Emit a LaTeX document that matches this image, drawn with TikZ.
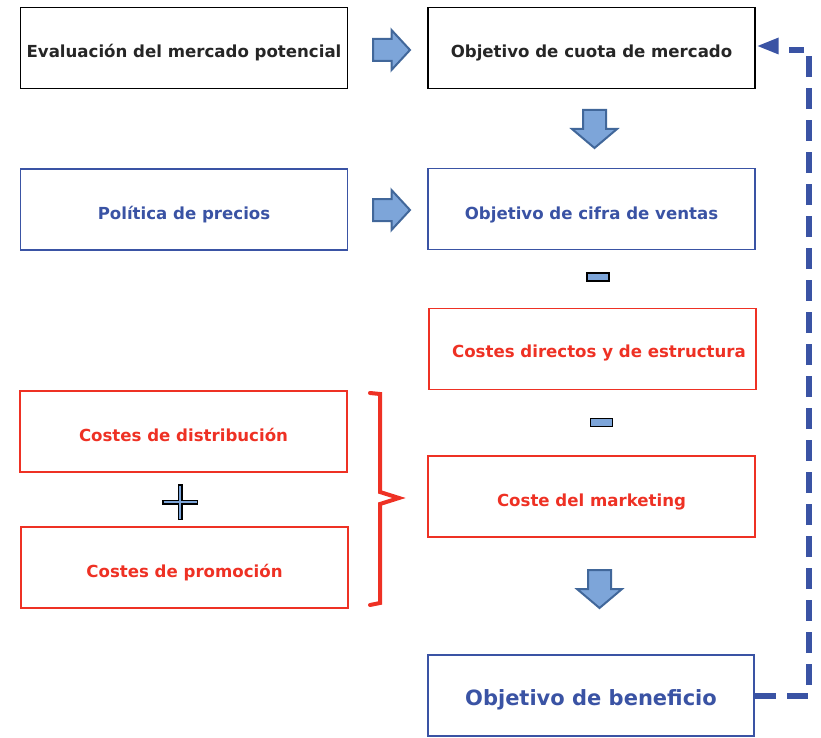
\documentclass[tikz,border=0pt]{standalone}
\usepackage{fontspec}
\setmainfont{DejaVu Sans}
\usetikzlibrary{arrows.meta}
\definecolor{dblue}{HTML}{3A53A4}
\definecolor{dred}{HTML}{EE3124}
\definecolor{afill}{HTML}{7DA5D9}
\definecolor{aline}{HTML}{41679A}
\tikzset{
  box/.style={draw, line width=1.3pt, minimum width=327pt, minimum height=81pt, inner sep=0pt, text height=20pt, text depth=0pt, font=\bfseries\fontsize{16.6}{19}\selectfont},
  blackbox/.style={box, draw=black, text=black!85},
  bluebox/.style={box, draw=dblue, text=dblue},
  redbox/.style={box, draw=dred, text=dred},
  minus/.style={draw=black, fill=afill, line width=1.5pt, minimum width=22pt, minimum height=8pt, inner sep=0pt},
  barrowstyle/.style={draw=aline, fill=afill, line width=2pt, line join=miter},
  rarrow/.pic={\path[barrowstyle] (-18.5,-11) -- (0,-11) -- (0,-20) -- (18.5,0) -- (0,20) -- (0,11) -- (-18.5,11) -- cycle;},
  darrow/.pic={\path[barrowstyle] (-11.5,-19) -- (11.5,-19) -- (11.5,0) -- (22.5,0) -- (0,19) -- (-22.5,0) -- (-11.5,0) -- cycle;},
}
\begin{document}
\begin{tikzpicture}[x=1pt,y=-1pt]
\useasboundingbox (0,0) rectangle (821,738);
\node[blackbox] (eval) at (184,48) {Evaluación del mercado potencial};
\node[blackbox] (cuota) at (591.5,48) {Objetivo de cuota de mercado};
\node[bluebox] (precios) at (184,209.5) {Política de precios};
\node[bluebox] (ventas) at (591.5,209) {Objetivo de cifra de ventas};
\node[redbox, text height=17pt] (directos) at (592.5,349) {\hspace*{13pt}Costes directos y de estructura};
\node[redbox] (distrib) at (183.5,431.5) {Costes de distribución};
\node[redbox] (promo) at (184.5,567.5) {Costes de promoción};
\node[redbox] (mkt) at (591.5,496.5) {Coste del marketing};
\node[box, draw=dblue, text=dblue, line width=2.6pt, minimum width=326pt, minimum height=81pt, text height=19pt, font=\bfseries\fontsize{21}{24}\selectfont] (benef) at (591,695.5) {Objetivo de beneficio};
% block arrows
\pic at (391.5,50) {rarrow};
\pic at (391.5,210) {rarrow};
\pic at (594.5,129) {darrow};
\pic at (599.5,589) {darrow};
% minus signs
\node[minus] (m1) at (598,277) {};
\node[minus] (m2) at (601.5,422.5) {};
% plus sign
\coordinate (pc) at (180,502);
\draw[black, line width=5pt] ([xshift=-18pt]pc) -- ([xshift=18pt]pc) ([yshift=-18pt]pc) -- ([yshift=18pt]pc);
\draw[afill, line width=1.6pt] ([xshift=-16.5pt]pc) -- ([xshift=16.5pt]pc) ([yshift=-16.5pt]pc) -- ([yshift=16.5pt]pc);
% brace
\coordinate (bt) at (370,393);
\draw[dred, line width=4pt, line cap=round, line join=miter] (bt) -- (380,394) -- (380,492) -- (399,498) -- (380,504) -- (380,603) -- (370,605);
% dashed feedback
\coordinate (fb) at (789,50);
\coordinate (tip) at ([xshift=2pt,yshift=2pt]cuota.east);
\draw[dblue, line width=6pt, dash pattern=on 21pt off 11pt] (benef.east) -- (809,695.5) -- (809,50) -- (fb);
\fill[dblue] (tip) -- ++(21,-8.5) -- ++(0,17) -- cycle;
\end{tikzpicture}
\end{document}
